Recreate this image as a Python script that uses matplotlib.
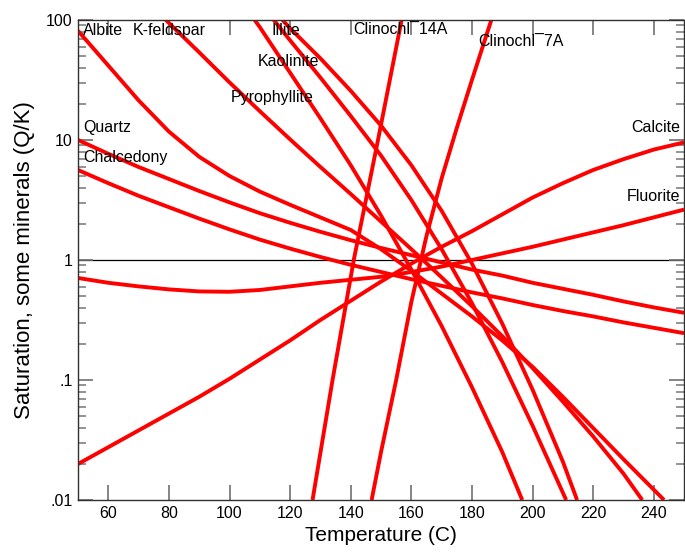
import numpy as np
import matplotlib
matplotlib.use('Agg')
import matplotlib.pyplot as plt
from matplotlib.ticker import FixedLocator, LogLocator, NullFormatter

plt.rcParams['font.family'] = ['Liberation Sans', 'DejaVu Sans']

# temperatures (C) and log10(Q/K)
t_albite = [50, 60, 70, 80, 90, 100, 110, 120, 130, 140, 150, 160, 170, 180, 190, 200, 210, 220, 230, 243.4]
q_albite = [1.91, 1.62, 1.33, 1.07, 0.86, 0.70, 0.57, 0.46, 0.355, 0.25, 0.09, -0.09, -0.28, -0.47, -0.67, -0.89, -1.14, -1.40, -1.66, -2.0]

t_kfeld = [79, 90, 100, 110, 120, 130, 140, 150, 160, 170, 180, 190, 200, 210, 220, 230, 236.2]
q_kfeld = [2.0, 1.73, 1.48, 1.24, 1.005, 0.775, 0.55, 0.32, 0.09, -0.145, -0.385, -0.635, -0.90, -1.18, -1.47, -1.78, -2.0]

t_kaol = [108.3, 110, 120, 130, 140, 150, 160, 170, 180, 190, 196.6]
q_kaol = [2.0, 1.94, 1.56, 1.18, 0.79, 0.37, -0.08, -0.55, -1.06, -1.60, -2.0]

t_illite = [114.6, 120, 130, 140, 150, 160, 170, 180, 190, 200, 211.1]
q_illite = [2.0, 1.83, 1.52, 1.20, 0.87, 0.50, 0.09, -0.36, -0.85, -1.38, -2.0]

t_pyro = [117.5, 120, 130, 140, 150, 160, 170, 180, 190, 200, 210, 214.7]
q_pyro = [2.0, 1.93, 1.68, 1.41, 1.12, 0.79, 0.41, -0.03, -0.53, -1.08, -1.68, -2.0]

t_grid = [50, 60, 70, 80, 90, 100, 110, 120, 130, 140, 150, 160, 170, 180, 190, 200, 210, 220, 230, 240, 250]
q_quartz = [1.0, 0.885, 0.775, 0.675, 0.575, 0.48, 0.39, 0.31, 0.235, 0.165, 0.10, 0.04, -0.02, -0.08, -0.13, -0.19, -0.24, -0.29, -0.345, -0.395, -0.44]
q_chalc = [0.75, 0.64, 0.535, 0.44, 0.345, 0.255, 0.17, 0.095, 0.025, -0.04, -0.10, -0.16, -0.215, -0.27, -0.32, -0.375, -0.425, -0.47, -0.52, -0.565, -0.61]
q_calcite = [-1.70, -1.56, -1.42, -1.28, -1.14, -0.99, -0.83, -0.67, -0.50, -0.34, -0.18, -0.03, 0.11, 0.24, 0.38, 0.52, 0.64, 0.75, 0.84, 0.92, 0.98]
q_fluorite = [-0.15, -0.19, -0.22, -0.245, -0.262, -0.265, -0.25, -0.22, -0.19, -0.165, -0.14, -0.10, -0.055, 0.0, 0.055, 0.11, 0.17, 0.23, 0.29, 0.355, 0.42]

t_cl14 = [127.4, 134, 141, 149, 156.8]
q_cl14 = [-2.0, -1.0, 0.0, 1.0, 2.0]

t_cl7 = [146.9, 150, 155, 160, 165, 170, 175, 180, 186.4]
q_cl7 = [-2.0, -1.6, -1.0, -0.35, 0.2, 0.68, 1.1, 1.5, 2.0]

curves = [
    (t_albite, q_albite), (t_kfeld, q_kfeld), (t_kaol, q_kaol),
    (t_illite, q_illite), (t_pyro, q_pyro), (t_grid, q_quartz),
    (t_grid, q_chalc), (t_grid, q_calcite), (t_grid, q_fluorite),
    (t_cl14, q_cl14), (t_cl7, q_cl7),
]

# label text, T, Q, alignment
labels = [
    ('Albite', 51.6, 81, 'left'),
    ('K-feldspar', 68.1, 81, 'left'),
    ('Illite', 113.9, 81, 'left'),
    ('Clinochl\u00af14A', 140.9, 82.6, 'left'),
    ('Clinochl\u00af7A', 182.1, 66.8, 'left'),
    ('Kaolinite', 109.3, 44.7, 'left'),
    ('Pyrophyllite', 100.4, 22.8, 'left'),
    ('Quartz', 51.6, 12.6, 'left'),
    ('Chalcedony', 51.6, 7.2, 'left'),
    ('Calcite', 248.7, 12.6, 'right'),
    ('Fluorite', 248.7, 3.35, 'right'),
]

fig = plt.figure(figsize=(6.85, 5.54), dpi=100)
ax = fig.add_axes([0.1139, 0.0975, 0.8847, 0.8664])

ax.axhline(1, color='black', lw=0.9, zorder=1)

for t, q in curves:
    ax.plot(t, 10 ** np.array(q), color='#ff0000', lw=2.8, solid_capstyle='butt',
            solid_joinstyle='round', zorder=2)

for text, t, q, ha in labels:
    ax.text(t, q, text, ha=ha, va='center', fontsize=11.5, color='black', zorder=3)

ax.set_yscale('log')
ax.set_xlim(50, 250)
ax.set_ylim(0.01, 100)

ax.xaxis.set_major_locator(FixedLocator(np.arange(60, 250, 20)))
ax.yaxis.set_major_locator(FixedLocator([0.01, 0.1, 1, 10, 100]))
ax.set_yticklabels(['.01', '.1', '1', '10', '100'])
ax.yaxis.set_minor_locator(LogLocator(base=10, subs=np.arange(2, 10)))
ax.yaxis.set_minor_formatter(NullFormatter())

ax.tick_params(axis='both', which='major', direction='in', length=11, width=1.2,
               color='#707070', labelsize=11.5, top=True, right=True, pad=4)
ax.tick_params(axis='y', which='minor', direction='in', length=5.5, width=1.2,
               color='#808080', right=True, left=True)
ax.tick_params(axis='x', which='minor', bottom=False, top=False)
for s in ax.spines.values():
    s.set_color('#303030')
    s.set_linewidth(1.0)

ax.set_xlabel('Temperature (C)', fontsize=15, labelpad=4)
ax.set_ylabel('Saturation, some minerals (Q/K)', fontsize=16, labelpad=8)

fig.savefig('out.png', dpi=100)
